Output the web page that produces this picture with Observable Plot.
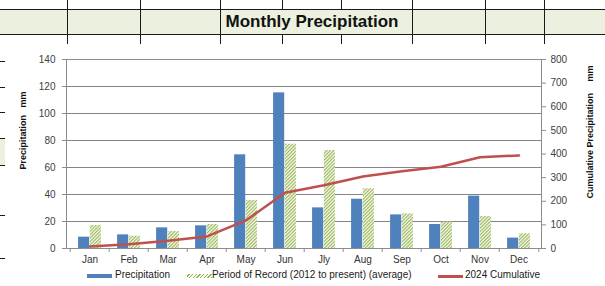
<!DOCTYPE html>
<html>
<head>
<meta charset="utf-8">
<script src="https://cdn.jsdelivr.net/npm/d3@7"></script>
<script src="https://cdn.jsdelivr.net/npm/@observablehq/plot@0.6"></script>
<style>
  html, body { margin: 0; padding: 0; }
  body { width: 605px; height: 286px; position: relative; overflow: hidden; background: #fff;
         font-family: "Liberation Sans", Arial, sans-serif; }
  .hl { position: absolute; height: 0; border-top: 1.5px solid #1a1a1a; }
  .vl { position: absolute; width: 0; border-left: 1px solid #1a1a1a; }
  #band { position: absolute; left: 0; top: 9px; width: 605px; height: 25px; background: #EBF1DE; }
  #title { position: absolute; left: 212px; width: 200px; top: 9px; height: 25px; line-height: 25px;
           text-align: center; font-weight: bold; font-size: 17px; color: #111; }
  #chart { position: absolute; left: 5px; top: 44px; width: 600px; height: 242px; background: #fff; }
  #legend { position: absolute; left: 0; top: 224px; width: 600px; height: 18px; font-size: 10px; color: #1a1a1a; }
  #legend span.t { position: absolute; top: 1px; white-space: nowrap; }
  #legend .sw { position: absolute; }
</style>
</head>
<body>
<div id="band"></div>
<div id="title">Monthly Precipitation</div>
<div id="sheet"></div>
<div id="chart">
  <div id="plot"></div>
  <div id="legend"></div>
</div>
<script>
// ---- data ----
const months = ["Jan", "Feb", "Mar", "Apr", "May", "Jun", "Jly", "Aug", "Sep", "Oct", "Nov", "Dec"];
const precipitation = [8.4, 10.1, 15.3, 16.8, 69.4, 115.3, 30.1, 36.5, 24.9, 17.8, 38.8, 7.7];
const periodAverage = [17.0, 9.1, 12.6, 17.8, 35.6, 77.3, 72.6, 44.2, 25.7, 19.5, 23.7, 10.9];
const cumulative2024 = [8, 18, 33, 51, 119, 236, 268, 305, 327, 346, 386, 394];
const leftTicks = [0, 20, 40, 60, 80, 100, 120, 140];
const rightTicks = [0, 100, 200, 300, 400, 500, 600, 700, 800];
const seriesNames = ["Precipitation", "Period of Record (2012 to present) (average)", "2024 Cumulative"];
const leftTitle = ["Precipitation", "mm"];
const rightTitle = ["Cumulative Precipitation", "mm"];

// ---- spreadsheet background ----
const sheet = document.getElementById("sheet");
function addLine(cls, style) { const d = document.createElement("div"); d.className = cls; Object.assign(d.style, style); sheet.appendChild(d); }
addLine("hl", {left: "0px", top: "8.5px", width: "605px"});
addLine("hl", {left: "0px", top: "33.5px", width: "605px"});
[67, 140, 220, 412, 485, 544].forEach(x => addLine("vl", {left: x + "px", top: "0px", height: "44px"}));
[282, 341].forEach(x => { addLine("vl", {left: x + "px", top: "0px", height: "9px"}); addLine("vl", {left: x + "px", top: "34px", height: "10px"}); });
const box = document.createElement("div");
Object.assign(box.style, {position: "absolute", left: "0px", top: "138px", width: "5px", height: "27px", background: "#EBF1DE"});
sheet.appendChild(box);
[60.5, 86.5, 111.5, 138, 165, 215, 258].forEach(y => addLine("hl", {left: "0px", top: y + "px", width: "5px", borderTopWidth: "1px"}));

// ---- chart ----
const data = months.map((m, i) => ({month: m, precip: precipitation[i], avg: periodAverage[i], cum: cumulative2024[i]}));
const W = 600, H = 222, mL = 61, mR = 64, mT = 15, mB = 18;
const bw = (W - mL - mR) / months.length;
const barW = 11.7;
const k = 140 / 800; // right-axis units to left-axis units
const gridColor = "#858585";
const axisColor = "#8c8c8c";

const defs = () => {
  const g = d3.create("svg:defs");
  const p = g.append("pattern").attr("id", "hatch").attr("patternUnits", "userSpaceOnUse")
    .attr("width", 2.4).attr("height", 2.4).attr("patternTransform", "rotate(45)");
  p.append("rect").attr("width", 2.4).attr("height", 2.4).attr("fill", "#fbfdf5");
  p.append("line").attr("x1", 0.6).attr("y1", 0).attr("x2", 0.6).attr("y2", 2.4)
    .attr("stroke", "#94b34f").attr("stroke-width", 1.1);
  return g.node();
};

const chart = Plot.plot({
  width: W, height: H,
  marginLeft: mL, marginRight: mR, marginTop: mT, marginBottom: mB,
  style: {fontFamily: "Liberation Sans, Arial, sans-serif", fontSize: "10px", color: "#404040", background: "transparent", overflow: "visible"},
  x: {type: "band", domain: months, padding: 0, label: null},
  y: {domain: [0, 140], label: null},
  marks: [
    defs,
    Plot.gridY(leftTicks, {stroke: gridColor, strokeOpacity: 1}),
    Plot.frame({stroke: axisColor}),
    Plot.barY(data, {x: "month", y: "precip", fill: "#4F81BD", insetLeft: bw / 2 - barW, insetRight: bw / 2}),
    Plot.barY(data, {x: "month", y: "avg", fill: "url(#hatch)", insetLeft: bw / 2, insetRight: bw / 2 - barW}),
    Plot.lineY(data, {x: "month", y: d => d.cum * k, stroke: "#C0504D", strokeWidth: 2.5}),
    Plot.axisY(leftTicks, {anchor: "left", tickSize: 4, tickPadding: 7, stroke: axisColor, label: null}),
    Plot.axisY(rightTicks.map(v => v * k), {anchor: "right", tickSize: 4, tickPadding: 5, stroke: axisColor,
      tickFormat: v => String(Math.round(v / k)), label: null}),
    Plot.axisX({tickSize: 0, tickPadding: 7, label: null, fill: "#333"}),
    Plot.ruleX(months, {dx: -bw / 2, insetTop: H - mT - mB, insetBottom: -4, stroke: axisColor}),
    Plot.ruleX(months.slice(-1), {dx: bw / 2, insetTop: H - mT - mB, insetBottom: -4, stroke: axisColor}),
    Plot.text([leftTitle[0]], {frameAnchor: "top-left", text: d => d, rotate: -90, textAnchor: "start", lineAnchor: "middle",
      dx: -43.5, dy: 110, fontWeight: "bold", fontSize: 9, fill: "#111"}),
    Plot.text([leftTitle[1]], {frameAnchor: "top-left", text: d => d, rotate: -90, textAnchor: "start", lineAnchor: "middle",
      dx: -43.5, dy: 48, fontWeight: "bold", fontSize: 9, fill: "#111"}),
    Plot.text([rightTitle[0]], {frameAnchor: "top-right", text: d => d, rotate: -90, textAnchor: "start", lineAnchor: "middle",
      dx: 49, dy: 139, fontWeight: "bold", fontSize: 9, fill: "#111"}),
    Plot.text([rightTitle[1]], {frameAnchor: "top-right", text: d => d, rotate: -90, textAnchor: "start", lineAnchor: "middle",
      dx: 49, dy: 22, fontWeight: "bold", fontSize: 9, fill: "#111"})
  ]
});
document.getElementById("plot").appendChild(chart);

// ---- legend ----
const legend = document.getElementById("legend");
const items = [
  {sw: {left: "81.7px", top: "6px", width: "25px", height: "4px", background: "#4F81BD"}, tx: 110},
  {sw: {left: "181.7px", top: "6px", width: "25px", height: "4px",
        background: "repeating-linear-gradient(-45deg, #94b34f 0 1px, #fbfdf5 1px 2.6px)"}, tx: 207},
  {sw: {left: "432.7px", top: "7px", width: "25px", height: "2.5px", background: "#C0504D"}, tx: 460}
];
items.forEach((it, i) => {
  const s = document.createElement("div"); s.className = "sw"; Object.assign(s.style, it.sw); legend.appendChild(s);
  const t = document.createElement("span"); t.className = "t"; t.style.left = it.tx + "px"; t.textContent = seriesNames[i]; legend.appendChild(t);
});
</script>
</body>
</html>
